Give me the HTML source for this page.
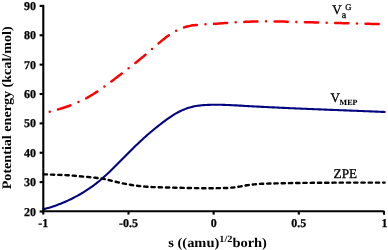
<!DOCTYPE html>
<html><head><meta charset="utf-8"><style>
html,body{margin:0;padding:0;background:#fff;}
body{width:388px;height:250px;overflow:hidden;}
svg{display:block;will-change:transform;}
text{font-family:"Liberation Serif",serif;text-rendering:geometricPrecision;}
</style></head><body>
<svg width="388" height="250" viewBox="0 0 388 250">
<rect width="388" height="250" fill="#fff"/>
<path d="M43.30 113.74 L44.80 113.29 L46.29 112.85 L47.79 112.42 L49.29 111.99 L50.78 111.55 L52.28 111.12 L53.78 110.69 L55.27 110.25 L56.77 109.81 L58.26 109.36 L59.76 108.91 L61.26 108.44 L62.75 107.97 L64.25 107.49 L65.75 106.99 L67.24 106.48 L68.74 105.96 L70.24 105.41 L71.73 104.85 L73.23 104.28 L74.73 103.68 L76.22 103.06 L77.72 102.41 L79.22 101.74 L80.71 101.05 L82.21 100.33 L83.71 99.58 L85.20 98.80 L86.70 97.99 L88.19 97.16 L89.69 96.29 L91.19 95.40 L92.68 94.49 L94.18 93.55 L95.68 92.59 L97.17 91.61 L98.67 90.61 L100.17 89.59 L101.66 88.55 L103.16 87.50 L104.66 86.43 L106.15 85.35 L107.65 84.26 L109.15 83.15 L110.64 82.03 L112.14 80.91 L113.64 79.77 L115.13 78.63 L116.63 77.49 L118.12 76.34 L119.62 75.19 L121.12 74.03 L122.61 72.88 L124.11 71.72 L125.61 70.57 L127.10 69.41 L128.60 68.26 L130.10 67.10 L131.59 65.94 L133.09 64.77 L134.59 63.60 L136.08 62.42 L137.58 61.23 L139.08 60.02 L140.57 58.81 L142.07 57.58 L143.56 56.34 L145.06 55.08 L146.56 53.81 L148.05 52.51 L149.55 51.21 L151.05 49.89 L152.54 48.58 L154.04 47.26 L155.54 45.95 L157.03 44.66 L158.53 43.37 L160.03 42.11 L161.52 40.88 L163.02 39.67 L164.52 38.50 L166.01 37.36 L167.51 36.27 L169.01 35.22 L170.50 34.21 L172.00 33.25 L173.49 32.33 L174.99 31.46 L176.49 30.65 L177.98 29.89 L179.48 29.18 L180.98 28.53 L182.47 27.94 L183.97 27.41 L185.47 26.94 L186.96 26.53 L188.46 26.17 L189.96 25.86 L191.45 25.59 L192.95 25.36 L194.45 25.17 L195.94 25.00 L197.44 24.86 L198.94 24.75 L200.43 24.64 L201.93 24.55 L203.42 24.47 L204.92 24.38 L206.42 24.30 L207.91 24.21 L209.41 24.12 L210.91 24.02 L212.40 23.93 L213.90 23.83 L215.40 23.73 L216.89 23.63 L218.39 23.52 L219.89 23.42 L221.38 23.32 L222.88 23.21 L224.38 23.11 L225.87 23.01 L227.37 22.90 L228.86 22.80 L230.36 22.70 L231.86 22.60 L233.35 22.50 L234.85 22.41 L236.35 22.32 L237.84 22.23 L239.34 22.14 L240.84 22.06 L242.33 21.98 L243.83 21.90 L245.33 21.83 L246.82 21.76 L248.32 21.70 L249.82 21.65 L251.31 21.60 L252.81 21.55 L254.31 21.51 L255.80 21.48 L257.30 21.45 L258.79 21.43 L260.29 21.41 L261.79 21.39 L263.28 21.38 L264.78 21.38 L266.28 21.37 L267.77 21.38 L269.27 21.38 L270.77 21.39 L272.26 21.40 L273.76 21.42 L275.26 21.44 L276.75 21.46 L278.25 21.48 L279.75 21.51 L281.24 21.54 L282.74 21.57 L284.24 21.60 L285.73 21.63 L287.23 21.67 L288.72 21.70 L290.22 21.74 L291.72 21.78 L293.21 21.82 L294.71 21.86 L296.21 21.90 L297.70 21.94 L299.20 21.98 L300.70 22.02 L302.19 22.06 L303.69 22.10 L305.19 22.14 L306.68 22.18 L308.18 22.22 L309.68 22.26 L311.17 22.30 L312.67 22.34 L314.16 22.38 L315.66 22.42 L317.16 22.46 L318.65 22.50 L320.15 22.54 L321.65 22.58 L323.14 22.62 L324.64 22.66 L326.14 22.70 L327.63 22.74 L329.13 22.78 L330.63 22.83 L332.12 22.87 L333.62 22.91 L335.12 22.95 L336.61 22.99 L338.11 23.03 L339.61 23.07 L341.10 23.11 L342.60 23.15 L344.09 23.19 L345.59 23.23 L347.09 23.26 L348.58 23.30 L350.08 23.34 L351.58 23.38 L353.07 23.42 L354.57 23.46 L356.07 23.50 L357.56 23.54 L359.06 23.58 L360.56 23.61 L362.05 23.65 L363.55 23.69 L365.05 23.73 L366.54 23.76 L368.04 23.80 L369.54 23.84 L371.03 23.88 L372.53 23.91 L374.02 23.95 L375.52 23.99 L377.02 24.02 L378.51 24.06 L380.01 24.09 L381.51 24.13 L383.00 24.16 L384.50 24.20" fill="none" stroke="#ff0000" stroke-width="2.5" stroke-linecap="round" stroke-dasharray="13.12 8.6 0 8.6" stroke-dashoffset="15.0"/>
<path d="M43.30 209.25 L44.80 208.88 L46.29 208.49 L47.79 208.07 L49.29 207.64 L50.79 207.18 L52.28 206.71 L53.78 206.21 L55.28 205.70 L56.78 205.16 L58.27 204.60 L59.77 204.03 L61.27 203.43 L62.77 202.82 L64.26 202.18 L65.76 201.52 L67.26 200.85 L68.76 200.16 L70.25 199.44 L71.75 198.71 L73.25 197.96 L74.74 197.18 L76.24 196.39 L77.74 195.57 L79.24 194.74 L80.73 193.88 L82.23 193.00 L83.73 192.09 L85.23 191.16 L86.72 190.20 L88.22 189.22 L89.72 188.21 L91.22 187.18 L92.71 186.11 L94.21 185.00 L95.71 183.87 L97.21 182.69 L98.70 181.48 L100.20 180.23 L101.70 178.95 L103.19 177.64 L104.69 176.30 L106.19 174.94 L107.69 173.55 L109.18 172.15 L110.68 170.72 L112.18 169.27 L113.68 167.81 L115.17 166.33 L116.67 164.85 L118.17 163.35 L119.67 161.85 L121.16 160.34 L122.66 158.82 L124.16 157.31 L125.66 155.79 L127.15 154.28 L128.65 152.77 L130.15 151.26 L131.64 149.77 L133.14 148.28 L134.64 146.81 L136.14 145.35 L137.63 143.91 L139.13 142.48 L140.63 141.07 L142.13 139.68 L143.62 138.31 L145.12 136.95 L146.62 135.61 L148.12 134.30 L149.61 133.00 L151.11 131.73 L152.61 130.48 L154.11 129.25 L155.60 128.03 L157.10 126.83 L158.60 125.65 L160.09 124.48 L161.59 123.32 L163.09 122.18 L164.59 121.05 L166.08 119.95 L167.58 118.87 L169.08 117.82 L170.58 116.80 L172.07 115.81 L173.57 114.86 L175.07 113.96 L176.57 113.09 L178.06 112.28 L179.56 111.50 L181.06 110.78 L182.56 110.10 L184.05 109.46 L185.55 108.87 L187.05 108.33 L188.54 107.83 L190.04 107.39 L191.54 106.99 L193.04 106.63 L194.53 106.32 L196.03 106.04 L197.53 105.80 L199.03 105.60 L200.52 105.42 L202.02 105.28 L203.52 105.15 L205.02 105.05 L206.51 104.97 L208.01 104.90 L209.51 104.84 L211.01 104.80 L212.50 104.77 L214.00 104.75 L215.50 104.74 L216.99 104.74 L218.49 104.75 L219.99 104.77 L221.49 104.80 L222.98 104.84 L224.48 104.88 L225.98 104.93 L227.48 104.99 L228.97 105.05 L230.47 105.11 L231.97 105.18 L233.47 105.26 L234.96 105.34 L236.46 105.42 L237.96 105.50 L239.46 105.59 L240.95 105.67 L242.45 105.76 L243.95 105.85 L245.44 105.93 L246.94 106.02 L248.44 106.10 L249.94 106.19 L251.43 106.27 L252.93 106.35 L254.43 106.43 L255.93 106.52 L257.42 106.60 L258.92 106.67 L260.42 106.75 L261.92 106.83 L263.41 106.91 L264.91 106.98 L266.41 107.06 L267.91 107.13 L269.40 107.21 L270.90 107.28 L272.40 107.35 L273.89 107.42 L275.39 107.50 L276.89 107.57 L278.39 107.64 L279.88 107.71 L281.38 107.78 L282.88 107.84 L284.38 107.91 L285.87 107.98 L287.37 108.05 L288.87 108.11 L290.37 108.18 L291.86 108.24 L293.36 108.31 L294.86 108.37 L296.36 108.44 L297.85 108.50 L299.35 108.57 L300.85 108.63 L302.34 108.69 L303.84 108.75 L305.34 108.82 L306.84 108.88 L308.33 108.94 L309.83 109.00 L311.33 109.06 L312.83 109.12 L314.32 109.18 L315.82 109.24 L317.32 109.30 L318.82 109.36 L320.31 109.42 L321.81 109.48 L323.31 109.54 L324.81 109.60 L326.30 109.66 L327.80 109.71 L329.30 109.77 L330.79 109.83 L332.29 109.89 L333.79 109.95 L335.29 110.01 L336.78 110.06 L338.28 110.12 L339.78 110.18 L341.28 110.24 L342.77 110.30 L344.27 110.35 L345.77 110.41 L347.27 110.47 L348.76 110.53 L350.26 110.59 L351.76 110.65 L353.26 110.70 L354.75 110.76 L356.25 110.82 L357.75 110.88 L359.24 110.94 L360.74 111.00 L362.24 111.06 L363.74 111.12 L365.23 111.18 L366.73 111.24 L368.23 111.30 L369.73 111.36 L371.22 111.42 L372.72 111.48 L374.22 111.54 L375.72 111.61 L377.21 111.67 L378.71 111.73 L380.21 111.79 L381.71 111.86 L383.20 111.92 L384.70 111.99" fill="none" stroke="#03037f" stroke-width="2.1" stroke-linecap="round" stroke-linejoin="round"/>
<path d="M43.30 174.31 L44.80 174.36 L46.29 174.42 L47.79 174.47 L49.29 174.52 L50.78 174.58 L52.28 174.63 L53.78 174.69 L55.28 174.75 L56.77 174.80 L58.27 174.86 L59.77 174.92 L61.26 174.97 L62.76 175.03 L64.26 175.09 L65.75 175.15 L67.25 175.23 L68.75 175.32 L70.24 175.42 L71.74 175.53 L73.24 175.65 L74.74 175.77 L76.23 175.91 L77.73 176.06 L79.23 176.22 L80.72 176.36 L82.22 176.50 L83.72 176.63 L85.21 176.75 L86.71 176.88 L88.21 177.02 L89.70 177.16 L91.20 177.30 L92.70 177.45 L94.20 177.61 L95.69 177.78 L97.19 177.95 L98.69 178.14 L100.18 178.34 L101.68 178.57 L103.18 178.82 L104.67 179.11 L106.17 179.44 L107.67 179.79 L109.16 180.15 L110.66 180.50 L112.16 180.88 L113.66 181.27 L115.15 181.65 L116.65 182.01 L118.15 182.36 L119.64 182.70 L121.14 183.03 L122.64 183.35 L124.13 183.65 L125.63 183.93 L127.13 184.20 L128.62 184.46 L130.12 184.71 L131.62 184.95 L133.12 185.19 L134.61 185.42 L136.11 185.65 L137.61 185.85 L139.10 186.04 L140.60 186.20 L142.10 186.36 L143.59 186.50 L145.09 186.63 L146.59 186.74 L148.09 186.84 L149.58 186.93 L151.08 187.01 L152.58 187.08 L154.07 187.13 L155.57 187.18 L157.07 187.22 L158.56 187.26 L160.06 187.30 L161.56 187.34 L163.05 187.39 L164.55 187.43 L166.05 187.47 L167.55 187.51 L169.04 187.55 L170.54 187.59 L172.04 187.63 L173.53 187.67 L175.03 187.70 L176.53 187.73 L178.02 187.76 L179.52 187.79 L181.02 187.82 L182.51 187.85 L184.01 187.88 L185.51 187.91 L187.01 187.94 L188.50 187.97 L190.00 188.01 L191.50 188.04 L192.99 188.07 L194.49 188.09 L195.99 188.12 L197.48 188.14 L198.98 188.16 L200.48 188.18 L201.97 188.20 L203.47 188.20 L204.97 188.20 L206.47 188.20 L207.96 188.20 L209.46 188.20 L210.96 188.20 L212.45 188.19 L213.95 188.19 L215.45 188.18 L216.94 188.16 L218.44 188.15 L219.94 188.13 L221.43 188.11 L222.93 188.08 L224.43 188.04 L225.93 188.00 L227.42 187.93 L228.92 187.84 L230.42 187.73 L231.91 187.60 L233.41 187.46 L234.91 187.29 L236.40 187.09 L237.90 186.87 L239.40 186.64 L240.89 186.40 L242.39 186.13 L243.89 185.85 L245.39 185.56 L246.88 185.30 L248.38 185.07 L249.88 184.86 L251.37 184.66 L252.87 184.47 L254.37 184.32 L255.86 184.19 L257.36 184.07 L258.86 183.97 L260.35 183.88 L261.85 183.80 L263.35 183.74 L264.85 183.68 L266.34 183.63 L267.84 183.58 L269.34 183.54 L270.83 183.51 L272.33 183.48 L273.83 183.45 L275.32 183.42 L276.82 183.39 L278.32 183.34 L279.81 183.30 L281.31 183.25 L282.81 183.21 L284.31 183.18 L285.80 183.16 L287.30 183.14 L288.80 183.12 L290.29 183.10 L291.79 183.07 L293.29 183.05 L294.78 183.02 L296.28 183.00 L297.78 182.98 L299.27 182.96 L300.77 182.94 L302.27 182.92 L303.77 182.91 L305.26 182.89 L306.76 182.87 L308.26 182.86 L309.75 182.85 L311.25 182.83 L312.75 182.82 L314.24 182.81 L315.74 182.79 L317.24 182.78 L318.74 182.77 L320.23 182.76 L321.73 182.75 L323.23 182.74 L324.72 182.73 L326.22 182.72 L327.72 182.71 L329.21 182.70 L330.71 182.70 L332.21 182.69 L333.70 182.67 L335.20 182.66 L336.70 182.65 L338.20 182.64 L339.69 182.63 L341.19 182.62 L342.69 182.61 L344.18 182.61 L345.68 182.60 L347.18 182.60 L348.67 182.60 L350.17 182.60 L351.67 182.60 L353.16 182.60 L354.66 182.60 L356.16 182.60 L357.66 182.60 L359.15 182.60 L360.65 182.60 L362.15 182.60 L363.64 182.60 L365.14 182.60 L366.64 182.60 L368.13 182.60 L369.63 182.60 L371.13 182.60 L372.62 182.60 L374.12 182.60 L375.62 182.60 L377.12 182.60 L378.61 182.60 L380.11 182.60 L381.61 182.60 L383.10 182.60 L384.60 182.60" fill="none" stroke="#000" stroke-width="2.4" stroke-linecap="round" stroke-dasharray="3.3 3.95" stroke-dashoffset="-0.4"/>
<g stroke="#000" stroke-width="2.1" fill="none">
<line x1="43.3" y1="4.9" x2="43.3" y2="212.2"/>
<path d="M42.3 211.3 H383.2 Q384 211.3 384 212.1 V214.6" stroke-linejoin="round"/>
<line x1="39.6" y1="211.50" x2="43.3" y2="211.50"/><line x1="39.6" y1="182.13" x2="43.3" y2="182.13"/><line x1="39.6" y1="152.76" x2="43.3" y2="152.76"/><line x1="39.6" y1="123.39" x2="43.3" y2="123.39"/><line x1="39.6" y1="94.02" x2="43.3" y2="94.02"/><line x1="39.6" y1="64.65" x2="43.3" y2="64.65"/><line x1="39.6" y1="35.28" x2="43.3" y2="35.28"/><line x1="39.6" y1="5.91" x2="43.3" y2="5.91"/>
<line x1="43.30" y1="211" x2="43.30" y2="214.6"/><line x1="128.48" y1="211" x2="128.48" y2="214.6"/><line x1="213.65" y1="211" x2="213.65" y2="214.6"/><line x1="298.82" y1="211" x2="298.82" y2="214.6"/><line x1="384.00" y1="211" x2="384.00" y2="214.6"/>
</g>
<g font-weight="bold" font-size="12" fill="#000" stroke="#000" stroke-width="0.25">
<text x="36" y="215.50" text-anchor="end">20</text><text x="36" y="186.13" text-anchor="end">30</text><text x="36" y="156.76" text-anchor="end">40</text><text x="36" y="127.39" text-anchor="end">50</text><text x="36" y="98.02" text-anchor="end">60</text><text x="36" y="68.65" text-anchor="end">70</text><text x="36" y="39.28" text-anchor="end">80</text><text x="36" y="9.91" text-anchor="end">90</text>
<text x="43.30" y="227.4" text-anchor="middle">-1</text><text x="128.48" y="227.4" text-anchor="middle">-0.5</text><text x="213.65" y="227.4" text-anchor="middle">0</text><text x="298.82" y="227.4" text-anchor="middle">0.5</text><text x="384.50" y="227.4" text-anchor="middle">1</text>
</g>
<text font-weight="bold" font-size="13" transform="translate(11.3,107.8) rotate(-90) scale(1.085 1)" text-anchor="middle">Potential energy (kcal/mol)</text>
<text font-weight="bold" font-size="13.5" x="0" y="247" text-anchor="middle" transform="translate(217.6 0) scale(1.07 1)">s ((amu)<tspan font-size="9.6" dy="-5.3">1/2</tspan><tspan dy="5.3">borh)</tspan></text>
<g stroke="#000" stroke-width="0.3"><text font-size="13" x="332.3" y="14.1">V<tspan font-size="10" dy="3.4">a</tspan><tspan font-size="8.6" dy="-7.5" dx="-0.9">G</tspan></text>
<text font-size="13" x="330.6" y="101.7">V<tspan font-size="8" font-weight="bold" stroke-width="0.1" dy="2.8" dx="-0.4">MEP</tspan></text>
<text font-size="13.2" x="333.6" y="177.8" >ZPE</text></g>
</svg>
</body></html>
